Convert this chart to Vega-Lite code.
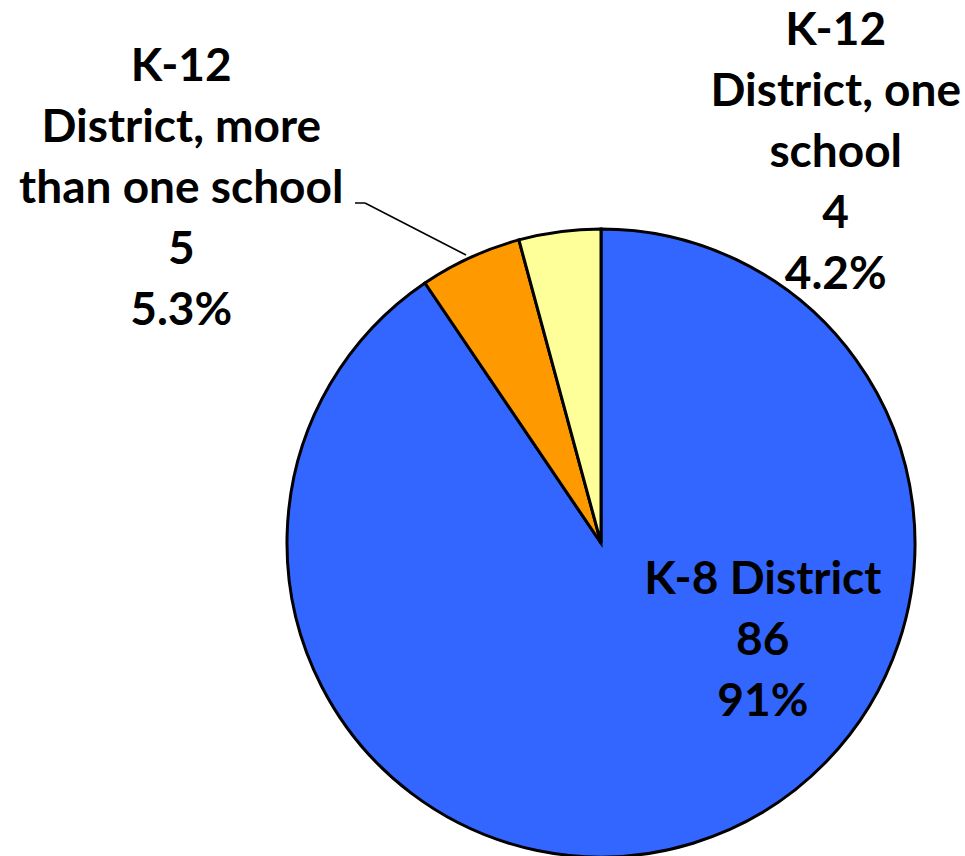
{
  "$schema": "https://vega.github.io/schema/vega-lite/v6.json",
  "autosize": {"type": "none"},
  "width": 628,
  "height": 628,
  "padding": {"left": 287, "top": 229, "right": 50, "bottom": 0},
  "background": "white",
  "config": {"view": {"stroke": null}},
  "data": {
    "values": [
      {"category": "K-8 District", "label": "K-8 District", "count": 86},
      {"category": "K-12 District, more than one school", "label": "K-12\nDistrict, more\nthan one school", "count": 5},
      {"category": "K-12 District, one school", "label": "K-12\nDistrict, one\nschool", "count": 4}
    ]
  },
  "transform": [
    {"joinaggregate": [{"op": "sum", "field": "count", "as": "total"}]},
    {"calculate": "datum.label + '\\n' + datum.count + '\\n' + format(datum.count / datum.total, '.2p')", "as": "text"}
  ],
  "layer": [
    {
      "mark": {"type": "arc", "stroke": "black", "strokeWidth": 3},
      "encoding": {
        "theta": {"field": "count", "type": "quantitative", "stack": true},
        "order": {"field": "count", "sort": "descending"},
        "color": {
          "field": "category",
          "type": "nominal",
          "scale": {
            "domain": ["K-8 District", "K-12 District, more than one school", "K-12 District, one school"],
            "range": ["#3366FF", "#FF9900", "#FFFF99"]
          },
          "legend": null
        }
      }
    },
    {
      "transform": [{"filter": "datum.category == 'K-8 District'"}],
      "mark": {"type": "text", "theta": 1.796, "radius": 166, "font": "Lato", "fontWeight": "bold", "fontSize": 46, "lineHeight": 61, "lineBreak": "\n", "align": "center", "baseline": "middle", "color": "black"},
      "encoding": {"text": {"field": "text"}}
    },
    {
      "transform": [{"filter": "datum.category == 'K-12 District, one school'"}],
      "mark": {"type": "text", "theta": 0.43, "radius": 563, "font": "Lato", "fontWeight": "bold", "fontSize": 46, "lineHeight": 61, "lineBreak": "\n", "align": "center", "baseline": "middle", "color": "black"},
      "encoding": {"text": {"field": "text"}}
    },
    {
      "transform": [{"filter": "datum.category == 'K-12 District, more than one school'"}],
      "mark": {"type": "text", "theta": 5.561, "radius": 635, "font": "Lato", "fontWeight": "bold", "fontSize": 46, "lineHeight": 61, "lineBreak": "\n", "align": "center", "baseline": "middle", "color": "black"},
      "encoding": {"text": {"field": "text"}}
    },
    {
      "data": {"values": [{"seg": 1}]},
      "mark": {"type": "rule", "color": "black", "strokeWidth": 1.5},
      "encoding": {"x": {"value": 68}, "y": {"value": -26}, "x2": {"value": 78}, "y2": {"value": -26}}
    },
    {
      "data": {"values": [{"seg": 2}]},
      "mark": {"type": "rule", "color": "black", "strokeWidth": 1.5},
      "encoding": {"x": {"value": 78}, "y": {"value": -26}, "x2": {"value": 179}, "y2": {"value": 26}}
    }
  ]
}
